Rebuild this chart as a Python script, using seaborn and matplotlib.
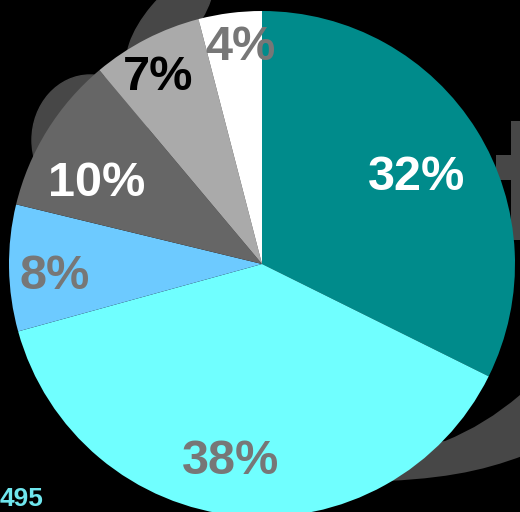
import matplotlib
matplotlib.use('Agg')
import matplotlib.pyplot as plt
import seaborn as sns
import numpy as np
from matplotlib.patches import Ellipse, PathPatch, Rectangle
from matplotlib.path import Path

sns.set_theme(style='dark', rc={'axes.facecolor': 'black', 'figure.facecolor': 'black'})
plt.rcParams['font.family'] = ['Liberation Sans', 'DejaVu Sans']

# slices, clockwise from 12 o'clock
shares = [32, 38, 8, 10, 7, 4]
labels = ['32%', '38%', '8%', '10%', '7%', '4%']
slice_colors = ['#008b8b', '#70ffff', '#6dcaff', '#666666', '#aaaaaa', '#ffffff']
label_colors = ['#ffffff', '#777777', '#777777', '#ffffff', '#000000', '#777777']
label_radius = [0.71, 0.77, 0.82, 0.735, 0.86, 0.88]
label_shift = [-1.1, -3.9, 1.3, 4.3, 1.3, -1.6]  # degrees off the slice middle
corner_text = '495'

fig = plt.figure(figsize=(5.2, 5.12), dpi=100)
ax = fig.add_axes([0, 0, 1, 1])
ax.set_facecolor('black')

R = 253.0
cx, cy = 262.0, 264.0


def px(x, y):
    # pixel position -> data units (pie radius = 1)
    return (x - cx) / R, -(y - cy) / R


# faint logo shapes behind the pie
shade = '#474747'
ax.add_patch(Ellipse(px(90, 140), 116 / R, 130 / R, color=shade, zorder=0))
ax.add_patch(Ellipse(px(170, 22), 48 / R, 120 / R, angle=-40, color=shade, zorder=0))
band = Path([px(360, 455), px(445, 441), px(485, 425), px(520, 395),
             px(525, 395), px(525, 455), px(480, 472), px(440, 480), px(360, 482),
             px(360, 455)],
            [Path.MOVETO, Path.LINETO, Path.CURVE3, Path.CURVE3,
             Path.LINETO, Path.LINETO, Path.CURVE4, Path.CURVE4, Path.CURVE4,
             Path.CLOSEPOLY])
ax.add_patch(PathPatch(band, color=shade, lw=0, zorder=0))
# the "t" at the right edge
x0, y0 = px(511, 240)
ax.add_patch(Rectangle((x0, y0), 20 / R, 119 / R, color=shade, lw=0, zorder=0))
x0, y0 = px(496, 180)
ax.add_patch(Rectangle((x0, y0), 35 / R, 25 / R, color=shade, lw=0, zorder=0))

wedges, _ = ax.pie(shares, colors=slice_colors, startangle=90, counterclock=False,
                   radius=1.0, wedgeprops={'linewidth': 0})
for w in wedges:
    w.set_zorder(2)

fs = 35
half_cap = 0.36 * fs / 72 * 100 / R
for w, lab, col, r, d in zip(wedges, labels, label_colors, label_radius, label_shift):
    mid = np.deg2rad((w.theta1 + w.theta2) / 2 + d)
    ax.text(r * np.cos(mid), r * np.sin(mid) - half_cap, lab, color=col, fontsize=fs,
            fontweight='bold', ha='center', va='baseline', zorder=3)

ax.text(*px(44, 506), corner_text, color='#6fe6ee', fontsize=19,
        fontweight='bold', ha='right', va='baseline', zorder=3)

ax.set_xlim(-cx / R, (520 - cx) / R)
ax.set_ylim(-(512 - cy) / R, cy / R)
ax.set_aspect('equal')
ax.axis('off')

fig.savefig('out.png', dpi=100, facecolor='black')
